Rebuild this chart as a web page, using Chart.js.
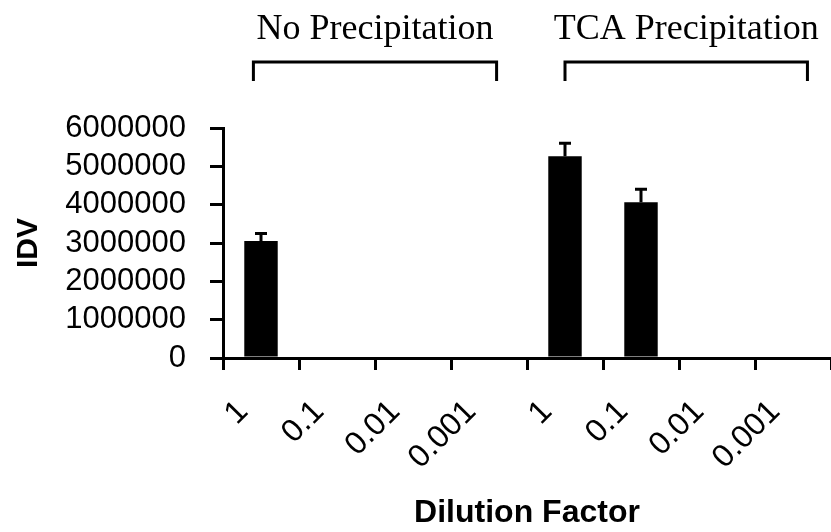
<!DOCTYPE html>
<html><head><meta charset="utf-8">
<script src="https://cdn.jsdelivr.net/npm/chart.js@4/dist/chart.umd.min.js"></script>
<style>html,body{margin:0;padding:0;background:#fff;}#c{display:block;}</style>
</head><body>
<canvas id="c" width="831" height="532"></canvas>
<script>
// ---- data ----
const categories = ['1', '0.1', '0.01', '0.001', '1', '0.1', '0.01', '0.001'];
const idvValues = [3050000, 0, 0, 0, 5260000, 4060000, 0, 0];
const idvErrors = [200000, 0, 0, 0, 340000, 340000, 0, 0];
const groupLabels = ['No Precipitation', 'TCA Precipitation'];
const groupFirst = [0, 4];
const groupLast = [3, 7];
const yMin = 0, yMax = 6000000, yStep = 1000000;

const errorBarPlugin = {
  id: 'errorBars',
  afterDatasetsDraw(chart) {
    const ctx = chart.ctx, meta = chart.getDatasetMeta(0), ys = chart.scales.y;
    ctx.save();
    ctx.strokeStyle = '#000';
    ctx.lineWidth = 3;
    meta.data.forEach((bar, i) => {
      const e = idvErrors[i];
      if (!e) return;
      const yb = ys.getPixelForValue(idvValues[i]);
      const yt = ys.getPixelForValue(idvValues[i] + e);
      ctx.beginPath();
      ctx.moveTo(bar.x, yb); ctx.lineTo(bar.x, yt);
      ctx.moveTo(bar.x - 6, yt); ctx.lineTo(bar.x + 6, yt);
      ctx.stroke();
    });
    ctx.restore();
  }
};

const groupPlugin = {
  id: 'groups',
  afterDraw(chart, args, opts) {
    const ctx = chart.ctx, xs = chart.scales.x;
    const cw = xs.getPixelForValue(1) - xs.getPixelForValue(0);
    ctx.save();
    ctx.strokeStyle = '#000';
    ctx.fillStyle = '#000';
    ctx.lineWidth = 3;
    groupLabels.forEach((lab, g) => {
      const l = xs.getPixelForValue(groupFirst[g]) + opts.startShift[g] * cw;
      const r = xs.getPixelForValue(groupLast[g]) + opts.endShift[g] * cw;
      ctx.beginPath();
      ctx.moveTo(l, opts.bracketBottom);
      ctx.lineTo(l, opts.bracketTop);
      ctx.lineTo(r, opts.bracketTop);
      ctx.lineTo(r, opts.bracketBottom);
      ctx.stroke();
      ctx.font = opts.font;
      ctx.textAlign = 'center';
      ctx.textBaseline = 'alphabetic';
      ctx.fillText(lab, (l + r) / 2, opts.textBaseline);
    });
    ctx.restore();
  }
};

new Chart(document.getElementById('c'), {
  type: 'bar',
  data: {
    labels: categories,
    datasets: [{
      data: idvValues,
      backgroundColor: '#000',
      borderWidth: 0,
      barPercentage: 0.44,
      categoryPercentage: 1
    }]
  },
  options: {
    responsive: false,
    devicePixelRatio: 1,
    animation: false,
    layout: { padding: { top: 128, right: 0, left: 0, bottom: 0 } },
    plugins: {
      legend: { display: false },
      tooltip: { enabled: false },
      groups: {
        startShift: [-0.1, 0],
        endShift: [0.1, 0.19],
        bracketTop: 62,
        bracketBottom: 81,
        textBaseline: 39,
        font: '36px "Liberation Serif"'
      }
    },
    scales: {
      x: {
        offset: true,
        grid: { offset: true, drawOnChartArea: false, drawTicks: true, tickLength: 12, color: '#000', lineWidth: 3 },
        border: { color: '#000', width: 3 },
        ticks: {
          color: '#000',
          font: { family: 'Liberation Sans', size: 32 },
          minRotation: 45, maxRotation: 45, autoSkip: false,
          padding: 23, labelOffset: -18
        },
        title: {
          display: true, text: 'Dilution Factor', color: '#000',
          font: { family: 'Liberation Sans', size: 32, weight: 'bold' },
          padding: { top: 0, bottom: 0 }
        },
        afterFit(s) { s.height = 174; s.paddingLeft = 0; s.paddingRight = 0; }
      },
      y: {
        min: yMin, max: yMax,
        grid: { drawOnChartArea: false, drawTicks: true, tickLength: 13, color: '#000', lineWidth: 3 },
        border: { color: '#000', width: 3 },
        ticks: {
          stepSize: yStep, color: '#000', padding: 24, autoSkip: false,
          font: { family: 'Liberation Sans', size: 31 },
          callback: v => String(v)
        },
        title: {
          display: true, text: 'IDV', color: '#000',
          font: { family: 'Liberation Sans', size: 30, weight: 'bold' },
          padding: { top: 11, bottom: 0 }
        },
        afterFit(s) { s.width = 223; }
      }
    }
  },
  plugins: [errorBarPlugin, groupPlugin]
});
</script>
</body></html>
